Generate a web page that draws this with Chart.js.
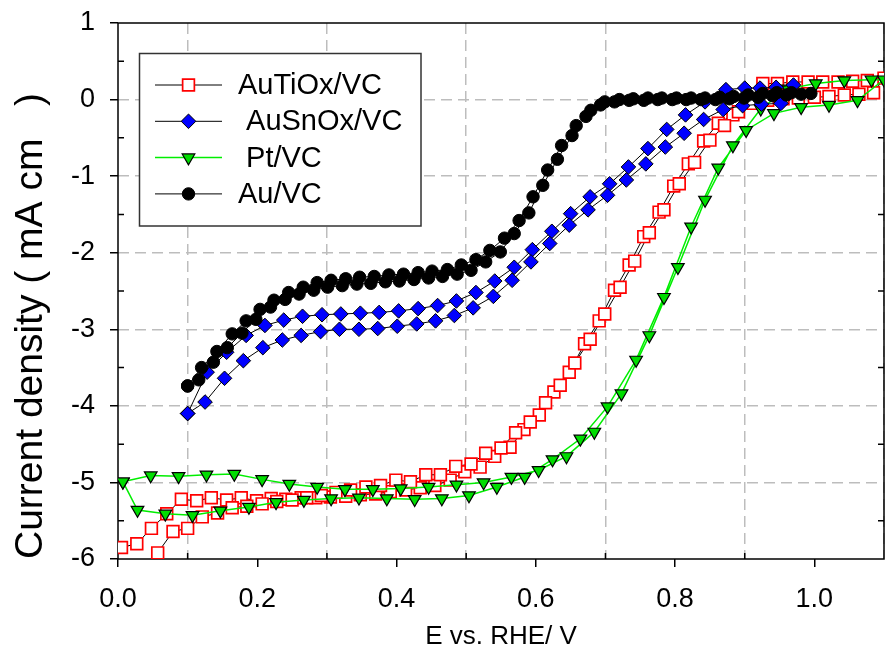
<!DOCTYPE html>
<html>
<head>
<meta charset="utf-8">
<script src="https://cdn.jsdelivr.net/npm/chart.js@4.4.1/dist/chart.umd.min.js"></script>
<style>
  html, body { margin: 0; padding: 0; background: #fff; }
</style>
</head>
<body>
<canvas id="chart" width="887" height="646"></canvas>
<script>
// Potentials (V vs RHE) and current densities (mA cm-2), scan order
const auTiOxE = [
  0.005, 0.027, 0.048, 0.070, 0.091, 0.113, 0.134, 0.156, 0.177, 0.199, 0.220, 0.241, 0.263,
  0.284, 0.305, 0.327, 0.348, 0.370, 0.391, 0.413, 0.434, 0.455, 0.477, 0.498, 0.520, 0.541,
  0.563, 0.583, 0.605, 0.626, 0.648, 0.670, 0.691, 0.713, 0.734, 0.755, 0.777, 0.798, 0.819,
  0.841, 0.862, 0.883, 0.912, 0.933, 0.955, 0.977, 1.000, 1.021, 1.043, 1.064, 1.085, 1.100,
  1.076, 1.055, 1.034, 1.012, 0.991, 0.969, 0.947, 0.926, 0.891, 0.871, 0.850, 0.828, 0.806,
  0.784, 0.763, 0.742, 0.721, 0.699, 0.678, 0.656, 0.635, 0.614, 0.592, 0.571, 0.550, 0.528,
  0.507, 0.485, 0.463, 0.442, 0.420, 0.399, 0.377, 0.356, 0.334, 0.313, 0.292, 0.271, 0.250,
  0.228, 0.207, 0.185, 0.164, 0.143, 0.121, 0.100, 0.079, 0.057, 0.036
];
const auTiOxJ = [
  -5.85, -5.80, -5.60, -5.41, -5.22, -5.24, -5.20, -5.23, -5.20, -5.24, -5.21, -5.22, -5.20,
  -5.20, -5.19, -5.18, -5.16, -5.15, -5.12, -5.10, -5.07, -5.04, -4.97, -4.86, -4.80, -4.66,
  -4.54, -4.31, -4.12, -3.82, -3.56, -3.19, -2.89, -2.49, -2.16, -1.79, -1.47, -1.13, -0.84,
  -0.54, -0.31, -0.20, -0.05, -0.01, 0.01, 0.02, 0.03, 0.04, 0.06, 0.07, 0.09, 0.28,
  0.25, 0.24, 0.23, 0.23, 0.23, 0.23, 0.21, 0.21, -0.16, -0.34, -0.53, -0.82, -1.10,
  -1.44, -1.74, -2.11, -2.45, -2.80, -3.13, -3.44, -3.73, -3.96, -4.21, -4.35, -4.55, -4.62,
  -4.76, -4.79, -4.90, -4.90, -4.99, -4.97, -5.04, -5.06, -5.10, -5.13, -5.17, -5.20, -5.23,
  -5.25, -5.28, -5.31, -5.33, -5.40, -5.45, -5.60, -5.64, -5.92, -6.15
];

const auSnOxE = [
  0.100, 0.128, 0.156, 0.184, 0.211, 0.238, 0.265, 0.293, 0.320, 0.348, 0.375, 0.403, 0.431,
  0.459, 0.486, 0.514, 0.541, 0.569, 0.595, 0.623, 0.650, 0.678, 0.706, 0.733, 0.761, 0.788,
  0.815, 0.843, 0.873, 0.900, 0.922, 0.945, 0.970,
  0.952, 0.924, 0.897, 0.869, 0.841, 0.813, 0.786, 0.758, 0.730, 0.703, 0.675, 0.648, 0.620,
  0.593, 0.566, 0.539, 0.510, 0.483, 0.456, 0.429, 0.401, 0.373, 0.346, 0.318, 0.291, 0.263,
  0.236, 0.208, 0.180, 0.153, 0.125, 0.100
];
const auSnOxJ = [
  -4.10, -3.56, -3.30, -3.08, -2.95, -2.88, -2.83, -2.81, -2.80, -2.79, -2.78, -2.76, -2.73,
  -2.69, -2.63, -2.52, -2.37, -2.19, -1.96, -1.72, -1.49, -1.27, -1.10, -0.88, -0.64, -0.39,
  -0.20, -0.03, 0.13, 0.15, 0.15, 0.16, 0.19,
  -0.05, -0.06, -0.08, -0.13, -0.26, -0.44, -0.62, -0.84, -1.05, -1.25, -1.44, -1.64, -1.88,
  -2.12, -2.36, -2.57, -2.72, -2.82, -2.89, -2.93, -2.96, -2.99, -3.00, -3.00, -3.03, -3.08,
  -3.14, -3.24, -3.41, -3.64, -3.95, -4.10
];

const ptE = [
  0.007, 0.047, 0.087, 0.127, 0.167, 0.207, 0.246, 0.286, 0.326, 0.366, 0.406, 0.446, 0.486,
  0.525, 0.565, 0.604, 0.644, 0.684, 0.723, 0.763, 0.804, 0.843, 0.883, 0.923, 0.962, 1.002,
  1.043, 1.082, 1.100,
  1.062, 1.021, 0.981, 0.942, 0.902, 0.862, 0.823, 0.784, 0.744, 0.703, 0.664, 0.624, 0.584,
  0.544, 0.504, 0.465, 0.426, 0.386, 0.346, 0.306, 0.267, 0.227, 0.188, 0.147, 0.107, 0.068,
  0.028, 0.007
];
const ptJ = [
  -4.99, -4.91, -4.92, -4.90, -4.89, -4.96, -5.02, -5.06, -5.09, -5.09, -5.08, -5.06, -5.03,
  -5.00, -4.93, -4.84, -4.66, -4.34, -3.84, -3.08, -2.19, -1.31, -0.60, -0.12, 0.14, 0.21,
  0.25, 0.26, 0.26,
  -0.01, -0.07, -0.10, -0.18, -0.40, -0.89, -1.66, -2.58, -3.40, -4.01, -4.43, -4.70, -4.93,
  -5.06, -5.17, -5.21, -5.22, -5.21, -5.20, -5.21, -5.23, -5.26, -5.32, -5.37, -5.43, -5.41,
  -5.36, -4.99
];

const auE = [
  0.100, 0.120, 0.142, 0.164, 0.184, 0.204, 0.224, 0.245, 0.266, 0.286, 0.306, 0.327, 0.347,
  0.368, 0.389, 0.410, 0.431, 0.451, 0.473, 0.493, 0.514, 0.534, 0.555, 0.576, 0.596, 0.617,
  0.637, 0.658, 0.679, 0.699, 0.720, 0.740, 0.761, 0.781, 0.802, 0.823, 0.843, 0.864, 0.884,
  0.905, 0.926, 0.946, 0.967, 0.995,
  0.981, 0.960, 0.940, 0.919, 0.899, 0.878, 0.858, 0.837, 0.816, 0.796, 0.775, 0.755, 0.734,
  0.713, 0.693, 0.672, 0.652, 0.631, 0.610, 0.590, 0.569, 0.549, 0.528, 0.507, 0.487, 0.466,
  0.446, 0.425, 0.404, 0.384, 0.363, 0.343, 0.322, 0.301, 0.281, 0.260, 0.240, 0.219, 0.198,
  0.178, 0.157, 0.137, 0.116, 0.100
];
const auJ = [
  -3.74, -3.50, -3.29, -3.06, -2.89, -2.74, -2.62, -2.52, -2.45, -2.39, -2.36, -2.34, -2.32,
  -2.31, -2.29, -2.28, -2.26, -2.24, -2.22, -2.16, -2.09, -1.97, -1.81, -1.58, -1.27, -0.92,
  -0.60, -0.34, -0.14, -0.03, 0.00, 0.01, 0.02, 0.02, 0.02, 0.02, 0.02, 0.03, 0.04,
  0.06, 0.08, 0.09, 0.09, 0.08,
  0.07, 0.06, 0.05, 0.03, 0.02, 0.01, 0.00, 0.00, 0.00, 0.00, 0.00, -0.01, -0.01,
  -0.03, -0.07, -0.22, -0.47, -0.78, -1.12, -1.48, -1.75, -1.99, -2.12, -2.23, -2.28, -2.31,
  -2.33, -2.35, -2.37, -2.38, -2.40, -2.41, -2.43, -2.45, -2.49, -2.54, -2.61, -2.71, -2.87,
  -3.05, -3.24, -3.43, -3.66, -3.74
];

const seriesNames = ['AuTiOx/VC', ' AuSnOx/VC', ' Pt/VC', 'Au/VC'];
const xMinorTicks = [0.1, 0.3, 0.5, 0.7, 0.9];
const yMinorTicks = [0.5, -0.5, -1.5, -2.5, -3.5, -4.5, -5.5];

const FONT = 'Arial, "Liberation Sans", Helvetica, sans-serif';
Chart.defaults.font.family = FONT;
Chart.defaults.color = '#000';

const toPoints = (xs, ys) => xs.map((x, i) => ({ x, y: ys[i] }));
const tenth = v => Math.round(v * 10);

const datasets = [
  {
    label: seriesNames[0], data: toPoints(auTiOxE, auTiOxJ), order: 3,
    borderColor: '#000', borderWidth: 1,
    pointStyle: 'rect', pointRadius: 8.3, pointBackgroundColor: '#fff',
    pointBorderColor: '#ff0000', pointBorderWidth: 1.7
  },
  {
    label: seriesNames[1], data: toPoints(auSnOxE, auSnOxJ), order: 1,
    borderColor: '#000', borderWidth: 1,
    pointStyle: 'rectRot', pointRadius: 7.3, pointBackgroundColor: '#0000ff',
    pointBorderColor: '#000', pointBorderWidth: 1
  },
  {
    label: seriesNames[2], data: toPoints(ptE, ptJ), order: 2,
    borderColor: '#00ee00', borderWidth: 1.5,
    pointStyle: 'triangle', pointRotation: 180, pointRadius: 7.3, pointBackgroundColor: '#00dd00',
    pointBorderColor: '#000', pointBorderWidth: 1.2
  },
  {
    label: seriesNames[3], data: toPoints(auE, auJ), order: 0,
    borderColor: '#000', borderWidth: 1,
    pointStyle: 'circle', pointRadius: 6.2, pointBackgroundColor: '#000',
    pointBorderColor: '#000', pointBorderWidth: 1
  }
].map(d => Object.assign({ showLine: true, fill: false, tension: 0 }, d));

// frame box and the short inward minor ticks
const framePlugin = {
  id: 'frame',
  beforeDatasetsDraw(chart) {
    const { ctx, chartArea: a, scales: { x, y } } = chart;
    ctx.save();
    ctx.strokeStyle = '#000';
    ctx.lineWidth = 1.5;
    ctx.beginPath();
    xMinorTicks.forEach(v => {
      const px = x.getPixelForValue(v);
      ctx.moveTo(px, a.bottom); ctx.lineTo(px, a.bottom - 6);
    });
    yMinorTicks.forEach(v => {
      const py = y.getPixelForValue(v);
      ctx.moveTo(a.left, py); ctx.lineTo(a.left + 6, py);
      ctx.moveTo(a.right, py); ctx.lineTo(a.right - 6, py);
    });
    ctx.stroke();
    ctx.strokeRect(a.left, a.top, a.right - a.left, a.bottom - a.top);
    ctx.restore();
  }
};

// boxed legend inside the plot, upper left
const legendPlugin = {
  id: 'boxLegend',
  afterDatasetsDraw(chart) {
    const ctx = chart.ctx;
    ctx.save();
    ctx.fillStyle = '#fff';
    ctx.fillRect(139.5, 53.5, 281.5, 172.5);
    ctx.strokeStyle = '#333';
    ctx.lineWidth = 1.5;
    ctx.strokeRect(139.5, 53.5, 281.5, 172.5);
    chart.data.datasets.forEach((ds, i) => {
      const cy = 85 + i * 36.3;
      ctx.strokeStyle = ds.borderColor;
      ctx.lineWidth = ds.borderWidth;
      ctx.beginPath();
      ctx.moveTo(155, cy); ctx.lineTo(222, cy);
      ctx.stroke();
      ctx.fillStyle = ds.pointBackgroundColor;
      ctx.strokeStyle = ds.pointBorderColor;
      ctx.lineWidth = ds.pointBorderWidth;
      Chart.helpers.drawPoint(ctx, {
        pointStyle: ds.pointStyle, rotation: ds.pointRotation || 0,
        radius: ds.pointRadius, borderWidth: ds.pointBorderWidth
      }, 188.5, cy);
      ctx.fillStyle = '#000';
      ctx.font = '29px ' + FONT;
      ctx.textBaseline = 'middle';
      ctx.textAlign = 'left';
      ctx.fillText(ds.label, 238, cy + 1);
    });
    ctx.restore();
  }
};

new Chart(document.getElementById('chart'), {
  type: 'scatter',
  data: { datasets },
  options: {
    responsive: false,
    animation: false,
    devicePixelRatio: 1,
    layout: { autoPadding: false, padding: { left: 0, right: 3, top: 23, bottom: 0 } },
    plugins: { legend: { display: false }, tooltip: { enabled: false } },
    scales: {
      x: {
        type: 'linear', min: 0, max: 1.1,
        afterFit: s => { s.height = 87; s.paddingLeft = 0; s.paddingRight = 0; },
        ticks: {
          // tall line height pushes the labels down without widening the side padding
          stepSize: 0.1, padding: 0, font: { size: 27, lineHeight: 2.4 },
          maxRotation: 0, autoSkip: false,
          callback: v => (tenth(v) % 2 === 0 && tenth(v) <= 10 ? (tenth(v) / 10).toFixed(1) : '')
        },
        grid: {
          lineWidth: 1.5,
          color: c => (tenth(c.tick.value) % 2 === 1 ? '#bdbdbd' : 'rgba(0,0,0,0)'),
          tickColor: c => (tenth(c.tick.value) % 2 === 0 ? '#000' : 'rgba(0,0,0,0)'),
          tickLength: 8, tickWidth: 1.5
        },
        border: { display: false, dash: [11, 6] },
        title: {
          display: true, text: 'E vs. RHE/ V', padding: 0,
          font: { size: 26, lineHeight: 0.7 }
        }
      },
      y: {
        type: 'linear', min: -6, max: 1,
        afterFit: s => { s.width = 118; s.paddingTop = 0; s.paddingBottom = 0; },
        ticks: {
          stepSize: 1, padding: 15, font: { size: 27, lineHeight: 0.5 },
          callback: v => v.toFixed(0)
        },
        grid: {
          lineWidth: 1.5,
          color: c => (c.tick.value > -6 && c.tick.value < 1 ? '#bdbdbd' : 'rgba(0,0,0,0)'),
          tickColor: '#000', tickLength: 8, tickWidth: 1.5
        },
        border: { display: false, dash: [11, 6] },
        title: {
          display: true, text: 'Current density ( mA cm   )', align: 'start',
          padding: { top: 8 }, font: { size: 39 }
        }
      }
    }
  },
  plugins: [framePlugin, legendPlugin]
});
</script>
</body>
</html>
